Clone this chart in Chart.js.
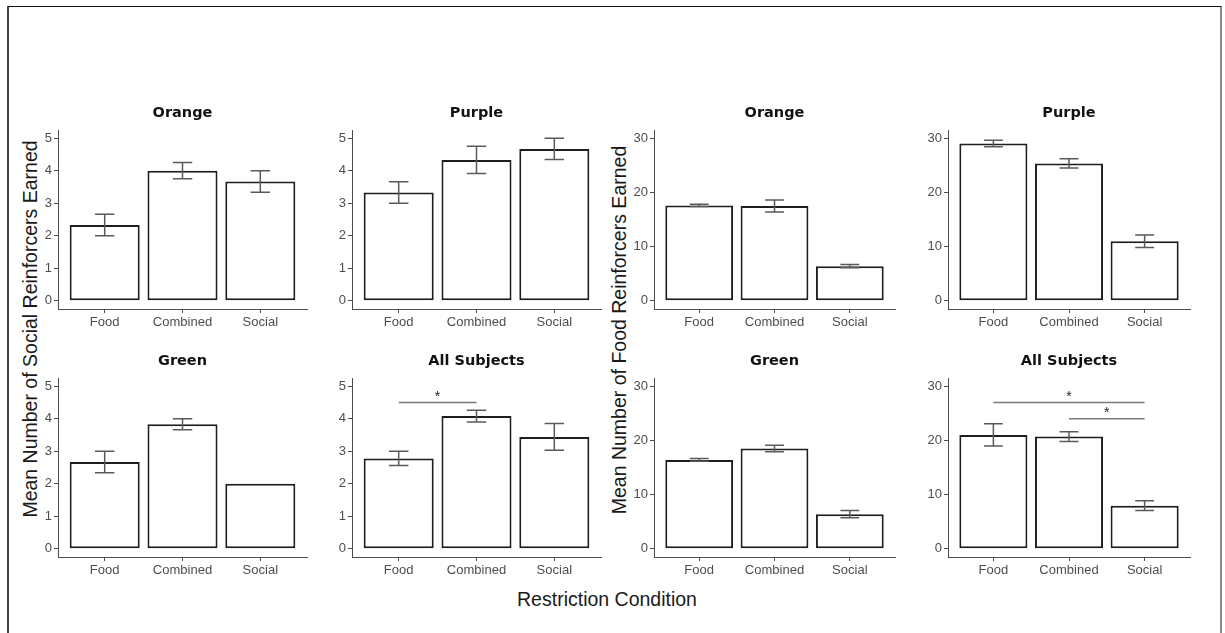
<!DOCTYPE html>
<html>
<head>
<meta charset="utf-8">
<script src="https://cdn.jsdelivr.net/npm/chart.js@4.4.1/dist/chart.umd.min.js"></script>
<style>
  html, body { margin: 0; padding: 0; background: #fff; }
  #fig { position: relative; width: 1225px; height: 633px; overflow: hidden; background: #fff; }
  #frame { position: absolute; left: 7px; top: 6px; width: 1211px; height: 700px;
           border-top: 1.5px solid #111; border-left: 2px solid #444; border-right: 2px solid #8a8a8a; }
  canvas { position: absolute; }
  .axtitle { position: absolute; font-family: "Liberation Sans", Arial, sans-serif; font-size: 19.5px;
             color: #1a1a1a; white-space: nowrap; line-height: 1; }
  .ytitle { transform: translate(-50%, -50%) rotate(-90deg); }
  .xtitle { transform: translate(-50%, -50%); }
</style>
</head>
<body>
<div id="fig">
  <div id="frame"></div>
  <div class="axtitle ytitle" style="left:31px;top:329px;">Mean Number of Social Reinforcers Earned</div>
  <div class="axtitle ytitle" style="left:620px;top:330px;">Mean Number of Food Reinforcers Earned</div>
  <div class="axtitle xtitle" style="left:607px;top:600px;">Restriction Condition</div>
</div>
<script>
// Restriction conditions along each x axis
const categories = ['Food', 'Combined', 'Social'];
const xTicks = [1, 2, 3];
const socialTicks = [0, 1, 2, 3, 4, 5];
const foodTicks = [0, 10, 20, 30];

// Mean social reinforcers earned (with SE)
const orangeSocial = [2.33, 4.0, 3.67];
const orangeSocialSE = [0.33, 0.25, 0.33];
const purpleSocial = [3.33, 4.33, 4.67];
const purpleSocialSE = [0.33, 0.42, 0.33];
const greenSocial = [2.67, 3.83, 2.0];
const greenSocialSE = [0.33, 0.17, 0];
const allSocial = [2.78, 4.08, 3.44];
const allSocialSE = [0.22, 0.18, 0.41];

// Mean food reinforcers earned (with SE)
const orangeFood = [17.6, 17.5, 6.4];
const orangeFoodSE = [0.2, 1.1, 0.3];
const purpleFood = [29.0, 25.33, 11.0];
const purpleFoodSE = [0.6, 0.85, 1.15];
const greenFood = [16.4, 18.5, 6.4];
const greenFoodSE = [0.25, 0.6, 0.65];
const allFood = [21.0, 20.7, 7.95];
const allFoodSE = [2.05, 0.9, 0.9];

// Significant pairwise comparisons (category indices, bracket height)
const allSocialSig = [{ from: 0, to: 1, y: 4.5 }];
const allFoodSig = [{ from: 0, to: 2, y: 27 }, { from: 1, to: 2, y: 24 }];

// Grid geometry
const AXW = 45, TITLE_H = 25, XAXH = 28, PLOT_H = 179, RIGHT_PAD = 8;
const colAxisX = [58, 352, 654, 948];
const colPlotW = [249, 249, 241, 242];
const rowPlotTop = [130, 378];

const SOCIAL_RANGE = [-0.25, 5.25];
const FOOD_RANGE = [-1.5, 31.5];
const CAP = 0.25;

const axisColor = '#4d4d4d';
const tickFont = { family: '"Liberation Sans", Arial, sans-serif', size: 13 };

const panels = [
  { title: 'Orange', means: orangeSocial, se: orangeSocialSE, ticks: socialTicks, range: SOCIAL_RANGE, sig: [], col: 0, row: 0 },
  { title: 'Purple', means: purpleSocial, se: purpleSocialSE, ticks: socialTicks, range: SOCIAL_RANGE, sig: [], col: 1, row: 0 },
  { title: 'Orange', means: orangeFood, se: orangeFoodSE, ticks: foodTicks, range: FOOD_RANGE, sig: [], col: 2, row: 0 },
  { title: 'Purple', means: purpleFood, se: purpleFoodSE, ticks: foodTicks, range: FOOD_RANGE, sig: [], col: 3, row: 0 },
  { title: 'Green', means: greenSocial, se: greenSocialSE, ticks: socialTicks, range: SOCIAL_RANGE, sig: [], col: 0, row: 1 },
  { title: 'All Subjects', means: allSocial, se: allSocialSE, ticks: socialTicks, range: SOCIAL_RANGE, sig: allSocialSig, col: 1, row: 1 },
  { title: 'Green', means: greenFood, se: greenFoodSE, ticks: foodTicks, range: FOOD_RANGE, sig: [], col: 2, row: 1 },
  { title: 'All Subjects', means: allFood, se: allFoodSE, ticks: foodTicks, range: FOOD_RANGE, sig: allFoodSig, col: 3, row: 1 }
];

// Error bars and significance brackets, placed through the chart's scales
function overlay(p) {
  return {
    id: 'overlay',
    afterDatasetsDraw(chart) {
      const { ctx, scales: { x, y } } = chart;
      ctx.save();
      ctx.strokeStyle = '#5a5a5a';
      ctx.lineWidth = 1.5;
      p.means.forEach((m, i) => {
        const e = p.se[i];
        if (!e) return;
        const cx = x.getPixelForValue(xTicks[i]);
        const x0 = x.getPixelForValue(xTicks[i] - CAP / 2);
        const x1 = x.getPixelForValue(xTicks[i] + CAP / 2);
        const yHi = y.getPixelForValue(m + e);
        const yLo = y.getPixelForValue(m - e);
        ctx.beginPath();
        ctx.moveTo(cx, yHi); ctx.lineTo(cx, yLo);
        ctx.moveTo(x0, yHi); ctx.lineTo(x1, yHi);
        ctx.moveTo(x0, yLo); ctx.lineTo(x1, yLo);
        ctx.stroke();
      });
      ctx.strokeStyle = '#7a7a7a';
      ctx.fillStyle = '#222';
      ctx.font = '14px "Liberation Sans", Arial, sans-serif';
      ctx.textAlign = 'center';
      ctx.textBaseline = 'alphabetic';
      p.sig.forEach(s => {
        const xa = x.getPixelForValue(xTicks[s.from]);
        const xb = x.getPixelForValue(xTicks[s.to]);
        const yy = y.getPixelForValue(s.y);
        ctx.beginPath();
        ctx.moveTo(xa, yy); ctx.lineTo(xb, yy);
        ctx.stroke();
        ctx.fillText('*', (xa + xb) / 2, yy - 1.5);
      });
      ctx.restore();
    }
  };
}

const fig = document.getElementById('fig');

panels.forEach(p => {
  const plotW = colPlotW[p.col];
  const cv = document.createElement('canvas');
  cv.width = AXW + plotW + RIGHT_PAD;
  cv.height = TITLE_H + PLOT_H + XAXH;
  cv.style.left = (colAxisX[p.col] - AXW) + 'px';
  cv.style.top = (rowPlotTop[p.row] - TITLE_H) + 'px';
  fig.appendChild(cv);

  const axisGrid = { drawOnChartArea: false, drawTicks: true, tickLength: 4, color: axisColor, lineWidth: 1, offset: false };
  const axisBorder = { display: true, color: axisColor, width: 1 };

  new Chart(cv, {
    type: 'bar',
    data: {
      datasets: [{
        data: p.means.map((v, i) => ({ x: xTicks[i], y: v })),
        backgroundColor: '#ffffff',
        borderColor: '#1e1e1e',
        borderWidth: 2,
        borderSkipped: false,
        barPercentage: 0.9,
        categoryPercentage: 1.0
      }]
    },
    options: {
      responsive: false,
      animation: false,
      devicePixelRatio: 1,
      events: [],
      layout: { padding: { left: 0, right: RIGHT_PAD, top: 0, bottom: 0 } },
      plugins: {
        legend: { display: false },
        tooltip: { enabled: false },
        title: {
          display: true,
          fullSize: false,
          text: p.title,
          color: '#111',
          font: { family: '"DejaVu Sans", sans-serif', weight: 'bold', size: 14.5, lineHeight: 1.2 },
          padding: { top: 0, bottom: TITLE_H - 17.4 }
        }
      },
      scales: {
        x: {
          type: 'linear',
          min: 0.4,
          max: 3.6,
          offset: false,
          afterBuildTicks: s => { s.ticks = xTicks.map(v => ({ value: v })); },
          afterFit: s => { s.height = XAXH; },
          ticks: { callback: (v, i) => categories[i], font: tickFont, color: axisColor, padding: 2, maxRotation: 0, autoSkip: false },
          grid: axisGrid,
          border: axisBorder
        },
        y: {
          min: p.range[0],
          max: p.range[1],
          afterBuildTicks: s => { s.ticks = p.ticks.map(v => ({ value: v })); },
          afterFit: s => { s.width = AXW; },
          ticks: { font: tickFont, color: axisColor, padding: 2 },
          grid: axisGrid,
          border: axisBorder
        }
      }
    },
    plugins: [overlay(p)]
  });
});
</script>
</body>
</html>
